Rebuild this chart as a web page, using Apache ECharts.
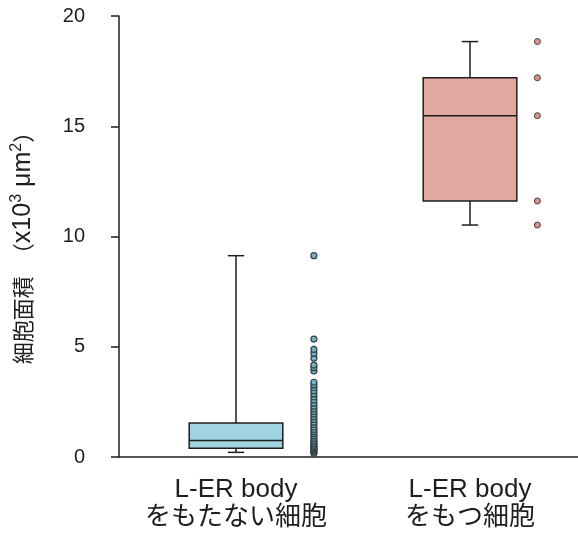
<!DOCTYPE html>
<html><head><meta charset="utf-8">
<script src="https://cdn.jsdelivr.net/npm/echarts@6/dist/echarts.min.js"></script>
<style>html,body{margin:0;padding:0;background:#fff;}#c{width:578px;height:533px;}</style>
</head><body><div id="c"></div>
<script>
// ---- data ----
const categories = ['L-ER body\nをもたない細胞', 'L-ER body\nをもつ細胞'];
// [min, Q1, median, Q3, max]
const boxWithout = [0.21, 0.40, 0.75, 1.54, 9.13];
const boxWith = [10.52, 11.61, 15.48, 17.20, 18.84];
const pointsWithout = [0.17, 0.22, 0.27, 0.32, 0.37, 0.42, 0.47, 0.53, 0.60, 0.68, 0.76, 0.85, 0.95, 1.05,
  1.15, 1.25, 1.36, 1.47, 1.58, 1.70, 1.82, 1.94, 2.06, 2.18, 2.30, 2.44, 2.58, 2.72, 2.86, 3.00, 3.14, 3.27, 3.39,
  3.90, 4.05, 4.17, 4.48, 4.70, 4.88, 5.35, 9.13];
const pointsWith = [10.52, 11.61, 15.48, 17.20, 18.84];
const yTicks = [0, 5, 10, 15, 20];

// ---- style constants ----
const pointOffsets = [0.333, 0.288]; // horizontal shift of point columns (in category units)
const boxFill = ['#a0d4e1', '#e1a8a0'];
const ptFill = ['#6fb3c4', '#d9958f'];
const ink = '#1e1e1e';
const fontLatin = '"Liberation Sans", Arial, "Noto Sans CJK JP", sans-serif';
const fontCJK = '"Noto Sans CJK JP", "Liberation Sans", sans-serif';

const boxData = [[0].concat(boxWithout), [1].concat(boxWith)];

function renderBox(params, api) {
  const ci = api.value(0);
  const vmin = api.value(1), q1 = api.value(2), med = api.value(3), q3 = api.value(4), vmax = api.value(5);
  const pMin = api.coord([ci, vmin]), pQ1 = api.coord([ci, q1]), pMed = api.coord([ci, med]);
  const pQ3 = api.coord([ci, q3]), pMax = api.coord([ci, vmax]);
  const band = api.size([1, 0])[0];
  const bw = band * 0.40;
  const cw = band * 0.07;
  const x = pMed[0];
  const ls = {stroke: ink, lineWidth: 1.5, fill: null};
  return {
    type: 'group',
    children: [
      {type: 'line', shape: {x1: x, y1: pQ3[1], x2: x, y2: pMax[1]}, style: ls},
      {type: 'line', shape: {x1: x, y1: pQ1[1], x2: x, y2: pMin[1]}, style: ls},
      {type: 'line', shape: {x1: x - cw / 2, y1: pMax[1], x2: x + cw / 2, y2: pMax[1]}, style: ls},
      {type: 'line', shape: {x1: x - cw / 2, y1: pMin[1], x2: x + cw / 2, y2: pMin[1]}, style: ls},
      {type: 'rect', shape: {x: x - bw / 2, y: pQ3[1], width: bw, height: pQ1[1] - pQ3[1]},
        style: {fill: boxFill[ci], stroke: ink, lineWidth: 1.5}},
      {type: 'line', shape: {x1: x - bw / 2, y1: pMed[1], x2: x + bw / 2, y2: pMed[1]}, style: ls}
    ]
  };
}

const chart = echarts.init(document.getElementById('c'), null, {renderer: 'canvas'});
chart.setOption({
  animation: false,
  backgroundColor: '#fff',
  grid: {left: 119, top: 16, bottom: 76, width: 468, containLabel: false, outerBoundsMode: 'none'},
  xAxis: [{
    type: 'category', data: categories, boundaryGap: true,
    axisLine: {lineStyle: {color: ink, width: 1.5}},
    axisTick: {show: false},
    axisLabel: {color: ink, fontSize: 26, lineHeight: 28, margin: 19, fontFamily: fontLatin, interval: 0}
  }, {
    type: 'value', min: 0, max: 2, show: false
  }],
  yAxis: {
    type: 'value', min: yTicks[0], max: yTicks[yTicks.length - 1], interval: 5,
    name: '{a|細胞面積　（}{b|x10}{s|3}{b| μm}{s|2}{a|）}', nameLocation: 'middle', nameGap: 82,
    nameTextStyle: {
      color: ink, fontSize: 22, fontFamily: fontCJK, padding: [0, 12, 0, 0],
      rich: {
        a: {fontSize: 22, fontFamily: fontCJK, color: ink, lineHeight: 28, verticalAlign: 'middle'},
        b: {fontSize: 25, fontFamily: fontLatin, color: ink, lineHeight: 28, verticalAlign: 'middle'},
        s: {fontSize: 16, fontFamily: fontLatin, color: ink, lineHeight: 28, verticalAlign: 'top', padding: [0, 0, 0, 0]}
      }
    },
    axisLine: {show: true, lineStyle: {color: ink, width: 1.5}},
    axisTick: {show: true, length: 8, lineStyle: {color: ink, width: 1.5}},
    axisLabel: {color: ink, fontSize: 20, margin: 34, fontFamily: fontLatin},
    splitLine: {show: false}
  },
  series: [{
    type: 'custom', xAxisIndex: 0, yAxisIndex: 0,
    renderItem: renderBox, data: boxData, encode: {x: 0, y: [1, 2, 3, 4, 5]}
  }, {
    type: 'scatter', xAxisIndex: 1, symbol: 'circle', symbolSize: 6,
    itemStyle: {color: ptFill[0], borderColor: '#344044', borderWidth: 1.2, opacity: 1},
    data: pointsWithout.map(v => [0.5 + pointOffsets[0], v])
  }, {
    type: 'scatter', xAxisIndex: 1, symbol: 'circle', symbolSize: 6,
    itemStyle: {color: ptFill[1], borderColor: '#4a3a3a', borderWidth: 1, opacity: 1},
    data: pointsWith.map(v => [1.5 + pointOffsets[1], v])
  }]
});
</script></body></html>
